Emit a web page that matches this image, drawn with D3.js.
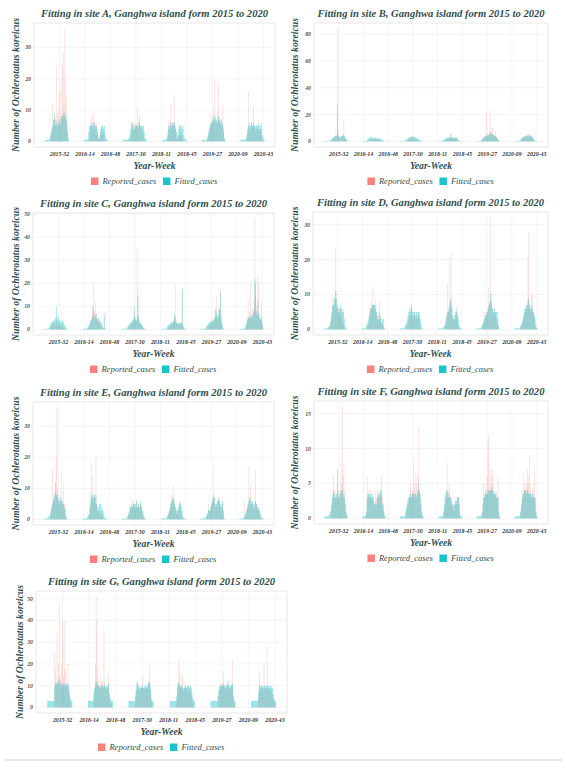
<!DOCTYPE html>
<html><head><meta charset="utf-8">
<script src="https://cdn.jsdelivr.net/npm/d3@7"></script>
<style>body{margin:0;background:#fff}svg{display:block}</style>
</head><body><svg id="c" width="567" height="768"></svg>
<script>
// ---------- DATA ----------
const years = [2015, 2016, 2017, 2018, 2019, 2020];
const weeksPerYear = [52, 52, 53, 52, 52, 52];
const seasonStartWeek = 13; // each season array starts at this week (32 weekly values)
const tickLabels = ["2015-32","2016-14","2016-48","2017-30","2018-11","2018-45","2019-27","2020-09","2020-43"];
const seriesNames = ["Reported_cases", "Fitted_cases"];
const siteNames = ["A","B","C","D","E","F","G"];

const yTicksA = [0,10,20,30];
const yTicksB = [0,20,40,60,80];
const yTicksC = [0,10,20,30,40,50];
const yTicksD = [0,10,20,30];
const yTicksE = [0,10,20,30];
const yTicksF = [0,5,10,15];
const yTicksG = [0,10,20,30,40,50];

const reportedA = [
 [0,0,0,0,0,0,0,1,2,4,12,5,6,8,6,24,9,7,10,16,8,20,9,24,28,12,36,20,14,8,3,0],
 [0,0,0,0,0,0,0,1,3,8,5,8,4,10,6,4,6,3,2,1,1,2,3,4,3,2,3,1,0,0,0,0],
 [0,0,0,0,0,0,0,0,0,1,2,3,4,6,3,4,5,4,5,11,6,7,8,5,4,5,3,2,1,0,0,0],
 [0,0,0,0,0,0,1,2,7,4,12,5,4,6,5,15,6,4,3,1,1,2,3,2,3,2,1,0,0,0,0,0],
 [0,0,0,0,0,0,0,0,1,2,4,5,9,6,7,10,8,20,9,7,6,10,18,8,6,5,7,5,12,4,1,0],
 [0,0,0,0,0,0,0,0,1,3,16,4,3,5,6,4,5,11,5,4,3,5,4,5,4,3,4,2,1,0,0,0]
];
const fittedA = [
 [0.5,0.5,0.5,0.5,0.5,0.5,1,2,3,4,5,7,9,7,5,6,5,5,6,6,5,7,8,8,9,8,9,8,7,5,3,1],
 [0.5,0.5,0.5,0.5,0.5,1,3,5,5,6,5,5,6,5,6,5,5,4,3,1,1,2,4,5,5,5,4,5,3,1,0.5,0.5],
 [0.5,0.5,0.5,0.5,0.5,0.5,0.5,1,1,2,4,6,5,6,5,4,5,6,5,5,4,5,6,5,5,4,5,5,3,1,0.5,0.5],
 [0.5,0.5,0.5,0.5,0.5,1,2,4,5,5,6,5,6,5,6,6,5,4,3,1,2,4,5,5,5,4,5,4,2,1,0.5,0.5],
 [0.5,0.5,0.5,0.5,0.5,0.5,0.5,1,2,3,4,5,6,6,7,6,7,8,7,6,7,6,8,7,7,6,7,6,5,3,1,0.5],
 [0.5,0.5,0.5,0.5,0.5,0.5,0.5,1,2,4,5,6,5,5,6,5,5,6,5,5,4,5,5,6,5,4,5,6,4,2,1,0.5]
];

const reportedB = [
 [0,0,0,0,0,0,0,0,0,1,1,2,2,3,4,8,5,84,9,4,3,2,3,2,4,3,16,3,2,1,0,0],
 [0,0,0,0,0,0,0,0,1,1,2,2,1,2,3,2,2,1,2,2,1,2,1,2,1,1,1,0,0,0,0,0],
 [0,0,0,0,0,0,0,0,0,1,1,2,2,3,2,3,4,3,2,2,3,2,2,1,1,1,0,0,0,0,0,0],
 [0,0,0,0,0,0,0,0,1,1,2,2,1,2,2,3,5,3,2,2,3,2,2,3,2,1,1,0,0,0,0,0],
 [0,0,0,0,0,0,0,1,2,4,3,5,4,22,6,5,4,8,24,7,11,10,6,5,4,8,6,3,2,1,0,0],
 [0,0,0,0,0,0,0,0,0,1,2,3,4,5,3,4,6,4,3,5,4,3,4,3,2,2,1,0,0,0,0,0]
];
const fittedB = [
 [0.3,0.3,0.3,0.3,0.3,0.3,0.5,1,1,2,2,3,3,3,4,4,4,27,5,4,3,3,4,4,4,5,5,4,3,2,1,0.5],
 [0.3,0.3,0.3,0.3,0.3,0.5,1,1.5,2,2.5,3,3,3,2.5,2.5,2,2.5,3,2.5,2.5,2,2,2.5,2,2,1.5,1,1,0.5,0.5,0.3,0.3],
 [0.3,0.3,0.3,0.3,0.3,0.3,0.5,1,1.5,2,2,2.5,3,3,3,3.5,4,3.5,3,3,3.5,3,2.5,2,2,1.5,1,0.5,0.5,0.3,0.3,0.3],
 [0.3,0.3,0.3,0.3,0.3,0.5,1,1.5,2,2,2.5,3,2.5,3,3,3,6,3,3,2.5,3,3,2.5,3,2.5,2,1.5,1,0.5,0.3,0.3,0.3],
 [0.3,0.3,0.3,0.3,0.3,0.5,1,1.5,2,3,3,3.5,4,4,4,4.5,5,5,6,6,5,5,5,4.5,4,4,3.5,3,2,1,0.5,0.3],
 [0.3,0.3,0.3,0.3,0.3,0.3,0.5,1,1.5,2,2.5,3,3,3.5,3.5,4,4,4.5,5,4.5,4,5,4.5,4,3.5,3,2,1,0.5,0.3,0.3,0.3]
];

const reportedC = [
 [0,0,0,0,0,0,0,0,1,1,2,2,3,2,3,2,4,3,2,3,2,3,2,2,1,2,1,1,0,0,0,0],
 [0,0,0,0,0,0,0,0,1,2,3,5,6,10,20,8,12,5,7,4,5,3,2,4,2,1,1,0,5,0,0,0],
 [0,0,0,0,0,0,0,0,0,1,1,2,2,3,3,4,8,5,4,3,35,17,6,4,3,2,2,1,0,0,0,0],
 [0,0,0,0,0,0,0,0,0,1,1,2,2,3,2,3,4,6,19,5,3,2,2,3,2,2,3,16,2,1,0,0],
 [0,0,0,0,0,0,0,0,0,1,1,2,3,2,3,6,4,3,4,5,8,14,6,5,7,9,17,5,3,1,0,0],
 [0,0,0,0,0,0,0,0,1,2,5,13,6,8,20,7,6,9,8,12,48,15,10,6,23,20,7,5,6,12,3,0]
];
const fittedC = [
 [0.3,0.3,0.3,0.3,0.3,0.5,0.5,1,2,3,3,3.5,4,3,4,5,10,6,4,5,4,4,3,3.5,4,3,3,2,1,0.5,0.3,0.3],
 [0.3,0.3,0.3,0.3,0.3,0.5,1,1.5,2,3,4,4,5,10,7,5,6,7,5,4,5,3,4,3,2,3,1,0.5,7,0.5,0.3,0.3],
 [0.3,0.3,0.3,0.3,0.3,0.3,0.5,1,1.5,2,2.5,3,3,3.5,4,5,10,6,4,4,6,14,5,3,3,2.5,2,1.5,1,0.5,0.3,0.3],
 [0.3,0.3,0.3,0.3,0.3,0.3,0.5,1,1.5,2,2,2.5,3,3,3,3.5,4,7,5,3,3,2.5,2.5,3,2.5,3,3,18,2,1,0.5,0.3],
 [0.3,0.3,0.3,0.3,0.3,0.3,0.5,1,1.5,2,2.5,3,3,3.5,3,4,3.5,4,5,9,6,7,5,6,8,9,16,6,3,1,0.5,0.3],
 [0.3,0.3,0.3,0.3,0.3,0.3,0.5,1,2,3,4,5,5,5,6,5,5,6,7,9,22,20,8,6,13,7,5,4,5,4,2,0.5]
];

const reportedD = [
 [0,0,0,0,0,0,0,0,1,2,3,5,10,7,6,8,23,11,7,5,6,4,5,6,4,3,2,1,0,0,0,0],
 [0,0,0,0,0,0,0,0,1,2,4,7,6,8,7,12,7,6,9,5,4,3,2,4,8,3,2,1,2,1,0,0],
 [0,0,0,0,0,0,0,0,0,1,1,2,3,4,4,5,6,4,3,4,5,3,4,3,4,5,3,2,1,0,0,0],
 [0,0,0,0,0,0,0,0,0,1,2,4,13,5,6,21,8,22,7,4,3,2,3,4,5,4,2,1,0,0,0,0],
 [0,0,0,0,0,0,0,0,1,2,5,3,4,5,4,6,12,8,7,32,10,6,5,4,5,6,4,3,2,1,0,0],
 [0,0,0,0,0,0,0,0,0,1,1,2,3,4,5,6,7,6,21,28,8,6,5,10,10,5,4,3,1,0,0,0]
];
const fittedD = [
 [0.3,0.3,0.3,0.3,0.3,0.5,0.5,1,1,2,4,5,7,7,9,9,11,9,7,6,5,6,6,7,6,5,6,5,3,1,0.5,0.3],
 [0.3,0.3,0.3,0.3,0.3,0.5,1,1.5,2,3,4,5,6,6,7,7,7,7,7,6,5,4,3,3,5,4,3,2,3,3,1,0.3],
 [0.3,0.3,0.3,0.3,0.3,0.3,0.5,1,1.5,2,3,4,5,6,5,6,7,5,4,5,5,4,5,5,4,5,5,4,3,1,0.5,0.3],
 [0.3,0.3,0.3,0.3,0.3,0.3,0.5,1,1,2,3,4,5,5,6,7,8,9,6,4,3,3,4,5,6,5,4,3,1,0.5,0.3,0.3],
 [0.3,0.3,0.3,0.3,0.3,0.3,0.5,1,1.5,2,3,3,4,4,5,5,6,7,8,10,8,6,6,5,6,5,5,5,5,3,1,0.3],
 [0.3,0.3,0.3,0.3,0.3,0.3,0.3,0.5,1,1.5,2,3,4,5,6,6,7,7,8,9,7,6,6,7,6,5,5,4,3,1,0.5,0.3]
];

const reportedE = [
 [0,0,0,0,0,0,0,0,1,2,4,16,6,8,7,9,36,20,10,7,6,8,5,16,6,4,12,5,3,1,0,0],
 [0,0,0,0,0,0,0,0,1,9,4,18,7,14,6,8,5,20,5,3,2,2,3,2,2,1,1,0,0,0,0,0],
 [0,0,0,0,0,0,0,0,1,2,5,3,4,7,4,6,5,4,3,6,4,5,4,3,5,4,3,2,1,0,0,0],
 [0,0,0,0,0,0,0,0,1,2,3,4,8,5,6,11,7,5,4,3,2,3,2,4,5,3,2,1,0,0,0,0],
 [0,0,0,0,0,0,0,0,1,2,5,3,2,3,4,5,6,17,7,5,4,5,4,6,7,5,4,3,4,5,2,0],
 [0,0,0,0,0,0,6,1,2,3,4,5,17,6,11,5,4,5,4,3,5,16,5,4,3,4,3,2,1,0,0,0]
];
const fittedE = [
 [0.3,0.3,0.3,0.3,0.3,0.5,1,1,2,3,4,5,6,7,8,12,8,8,7,6,5,6,7,6,6,5,5,4,3,1,0.5,0.3],
 [0.3,0.3,0.3,0.3,0.3,0.5,1,1.5,2,4,6,8,7,8,7,8,7,8,5,4,3,4,5,5,4,3,3,2,1,0.5,0.3,0.3],
 [0.3,0.3,0.3,0.3,0.3,0.3,0.5,1,1.5,2,3,4,4,5,4,5,5,4,5,6,4,4,5,4,5,6,4,3,2,1,0.3,0.3],
 [0.3,0.3,0.3,0.3,0.3,0.3,0.5,1,1.5,2,3,4,5,6,7,7,6,5,4,3,2,3,4,5,6,5,4,3,1,0.5,0.3,0.3],
 [0.3,0.3,0.3,0.3,0.3,0.3,0.5,1,1.5,2,3,3,3,4,5,6,7,8,7,5,4,5,6,6,7,6,5,4,5,6,3,0.5],
 [0.3,0.3,0.3,0.3,0.3,0.5,1,1.5,2,3,4,5,6,7,7,6,5,6,5,4,5,6,5,4,4,3,3,2,1,0.5,0.3,0.3]
];

const reportedF = [
 [0,0,0,0,0,0,0,0,0,1,2,3,6,4,3,4,3,5,4,3,4,3,8,5,16,6,8,4,2,1,0,0],
 [0,0,0,0,0,1,6,3,4,3,4,3,4,3,2,3,2,4,2,3,4,3,4,2,3,4,6,3,2,1,0,0],
 [0,0,0,0,0,0,0,0,1,2,3,2,3,4,5,3,4,4,8,5,4,7,5,4,6,13,4,3,2,1,0,0],
 [0,0,0,0,0,0,0,1,2,3,4,8,3,4,5,3,2,3,2,1,2,1,2,3,2,3,2,3,1,0,0,0],
 [0,0,0,0,0,0,0,1,2,5,3,4,5,4,6,11,12,5,4,7,6,7,5,4,3,4,3,4,3,6,2,0],
 [0,0,0,0,0,0,0,0,1,2,4,3,6,4,5,4,5,7,5,6,9,5,4,3,4,5,3,7,2,1,0,0]
];
const fittedF = [
 [0.3,0.3,0.3,0.3,0.3,0.5,0.5,1,1,2,3,3.5,4,3.5,3,3,3.5,7,3.5,3,3,3.5,4,4,4,3.5,3,3,2,1,0.5,0.3],
 [0.3,0.3,0.3,0.3,0.5,1,3,3.5,3.5,3,3.5,3.5,3,3.5,3,2.5,2,2,2.5,2,3,3.5,3,3.5,4,4,3.5,2,2,1,0.5,0.3],
 [0.3,0.3,0.3,0.3,0.3,0.3,0.5,1,1.5,2,2.5,3,3,3.5,3.5,3,3.5,3.5,3.5,3,3.5,3.5,3,3.5,4,5,4,3.5,2,1,0.5,0.3],
 [0.3,0.3,0.3,0.3,0.3,0.5,1,2,3,3.5,4,4,3.5,3,3.5,3,3,2.5,2,1.5,2,2,2.5,2,2.5,3,3,3,2,0.5,0.3,0.3],
 [0.3,0.3,0.3,0.3,0.3,0.3,0.5,1,2,3,3,3.5,3.5,3.5,3.5,4,4,4,4,4,4.5,4,4,3.5,3.5,3.5,3.5,3,3,3,1,0.3],
 [0.3,0.3,0.3,0.3,0.3,0.3,0.3,0.5,1,2,3,3.5,3.5,4,4,4,3.5,4,4,3.5,3.5,3.5,3.5,3,3.5,3.5,3,3,3,1,0.3,0.3]
];

const reportedG = [
 [0,0,0,0,0,0,0,0,0,25,18,12,34,13,20,48,15,12,20,40,14,40,18,16,10,12,20,8,6,3,0,0],
 [0,0,0,0,0,0,0,3,8,20,51,40,18,12,10,9,14,12,11,10,36,12,10,8,9,10,15,7,4,2,0,0],
 [0,0,0,0,0,0,0,0,2,5,8,10,9,8,7,8,9,10,14,9,8,9,10,8,9,12,20,10,6,3,0,0],
 [0,0,0,0,0,0,0,0,2,6,12,22,18,10,11,15,14,9,8,10,9,8,9,7,8,9,8,6,4,2,0,0],
 [0,0,0,0,0,0,0,0,0,2,5,8,9,10,8,12,17,10,9,8,10,9,11,10,9,8,10,9,22,6,2,0],
 [0,0,0,0,0,0,0,0,0,4,16,9,8,10,9,8,21,10,9,8,28,9,8,10,9,8,7,6,4,2,0,0]
];
const fittedG = [
 [3,3,3,3,3,3,3,3,3,10,11,11,11,11,12,13,11,10,11,10,11,10,11,10,11,10,11,10,6,4,3,3],
 [3,3,3,3,3,3,3,6,9,10,12,11,10,10,9,10,9,10,10,9,10,10,9,10,9,10,11,6,4,3,3,3],
 [3,3,3,3,3,3,3,3,5,8,11,12,10,9,10,9,9,10,9,9,10,9,10,9,10,11,12,11,8,4,3,3],
 [3,3,3,3,3,3,3,3,5,9,11,11,10,10,9,10,9,8,9,10,10,9,10,10,9,10,10,9,6,4,3,3],
 [3,3,3,3,3,3,3,3,3,5,8,10,10,11,10,10,11,10,10,9,10,11,12,10,9,10,11,10,11,5,3,3],
 [3,3,3,3,3,3,3,3,3,7,10,10,9,10,10,9,10,10,9,10,10,9,10,9,10,9,10,9,6,4,3,3]
];

// ---------- LAYOUT ----------
const COL_REP = "#F8766D", COL_FIT = "#00BFC4";
const TXT = "#2F4F4F";
const SERIF = "'Liberation Serif','DejaVu Serif','Times New Roman',serif";

const panels = [
  {rep: reportedA, fit: fittedA, yt: yTicksA, ox: 0,   oy: 0,   L: 34, R: 275, T: 23, B: 147, ytx: 15},
  {rep: reportedB, fit: fittedB, yt: yTicksB, ox: 283, oy: 0,   L: 31, R: 265, T: 23, B: 147, ytx: 11},
  {rep: reportedC, fit: fittedC, yt: yTicksC, ox: 0,   oy: 190, L: 33, R: 274, T: 23, B: 145, ytx: 15},
  {rep: reportedD, fit: fittedD, yt: yTicksD, ox: 283, oy: 190, L: 30, R: 265, T: 22, B: 145, ytx: 11},
  {rep: reportedE, fit: fittedE, yt: yTicksE, ox: 0,   oy: 380, L: 33, R: 274, T: 22, B: 145, ytx: 15},
  {rep: reportedF, fit: fittedF, yt: yTicksF, ox: 283, oy: 380, L: 31, R: 265, T: 21, B: 144, ytx: 11},
  {rep: reportedG, fit: fittedG, yt: yTicksG, ox: 0,   oy: 566, L: 36, R: 287, T: 25, B: 147, ytx: 19}
];

// week index helper (0 = 2015-01)
const yearStart = {};
{ let acc = 0; years.forEach((y, i) => { yearStart[y] = acc; acc += weeksPerYear[i]; }); }
const nWeeks = d3.sum(weeksPerYear);
const weekIndex = (y, w) => yearStart[y] + w - 1;
const labelIndex = s => { const [y, w] = s.split("-").map(Number); return weekIndex(y, w); };

const svg = d3.select("#c");
svg.append("rect").attr("width", 567).attr("height", 768).attr("fill", "#fff");

function fit(sel, target) {
  sel.attr("textLength", target).attr("lengthAdjust", "spacingAndGlyphs");
}

panels.forEach((p, pi) => {
  const g = svg.append("g").attr("transform", `translate(${p.ox},${p.oy})`);
  const maxV = d3.max([d3.max(p.rep.flat()), d3.max(p.fit.flat())]);
  const x = d3.scaleLinear().domain([-3, nWeeks - 1 + 6.5]).range([p.L, p.R]);
  const y = d3.scaleLinear().domain([-0.05 * maxV, 1.05 * maxV]).range([p.B, p.T]);
  const bw = (x(1) - x(0)) * 0.9;

  // grid
  const grid = g.append("g");
  grid.selectAll("line.v").data(tickLabels).join("line")
    .attr("x1", d => x(labelIndex(d))).attr("x2", d => x(labelIndex(d)))
    .attr("y1", p.T).attr("y2", p.B).attr("stroke", "#efefef").attr("stroke-width", 0.6);
  grid.selectAll("line.h").data(p.yt).join("line")
    .attr("x1", p.L).attr("x2", p.R).attr("y1", d => y(d)).attr("y2", d => y(d))
    .attr("stroke", "#efefef").attr("stroke-width", 0.6);

  // bars
  const flatten = arr => arr.flatMap((season, si) =>
    season.map((v, i) => ({idx: weekIndex(years[si], seasonStartWeek + i), v})));
  g.append("g").selectAll("rect").data(flatten(p.rep)).join("rect")
    .attr("x", d => x(d.idx) - bw / 2).attr("width", bw)
    .attr("y", d => y(d.v)).attr("height", d => y(0) - y(d.v))
    .attr("fill", COL_REP).attr("fill-opacity", 0.3);
  g.append("g").selectAll("rect").data(flatten(p.fit)).join("rect")
    .attr("x", d => x(d.idx) - bw / 2).attr("width", bw)
    .attr("y", d => y(d.v)).attr("height", d => y(0) - y(d.v))
    .attr("fill", COL_FIT).attr("fill-opacity", 0.48);

  // border
  g.append("rect").attr("x", p.L).attr("y", p.T).attr("width", p.R - p.L).attr("height", p.B - p.T)
    .attr("fill", "none").attr("stroke", "#e2e2e2").attr("stroke-width", 0.8);

  // y ticks
  g.append("g").selectAll("text").data(p.yt).join("text")
    .attr("x", p.L - 3).attr("y", d => y(d) + 2)
    .attr("text-anchor", "end").attr("font-family", SERIF).attr("font-style", "italic")
    .attr("font-weight", "bold").attr("font-size", 5.8).attr("fill", "#555")
    .text(d => d);
  // x ticks
  g.append("g").selectAll("text").data(tickLabels).join("text")
    .attr("x", d => x(labelIndex(d))).attr("y", p.B + 8.5)
    .attr("text-anchor", "middle").attr("font-family", SERIF).attr("font-style", "italic")
    .attr("font-weight", "bold").attr("font-size", 5.8).attr("fill", "#333")
    .text(d => d);

  const cx = (p.L + p.R) / 2;
  // title
  g.append("text").attr("x", cx).attr("y", p.T - 6).attr("text-anchor", "middle")
    .attr("font-family", SERIF).attr("font-style", "italic").attr("font-weight", "bold")
    .attr("font-size", 11).attr("fill", TXT)
    .text(`Fitting in site ${siteNames[pi]}, Ganghwa island form 2015 to 2020`).call(fit, 227);
  // x title
  g.append("text").attr("x", cx).attr("y", p.B + 21.5).attr("text-anchor", "middle")
    .attr("font-family", SERIF).attr("font-style", "italic").attr("font-weight", "bold")
    .attr("font-size", 10.5).attr("fill", TXT).text("Year-Week").call(fit, 42);
  // y title
  g.append("text").attr("transform", `translate(${p.ytx},${(p.T + p.B) / 2}) rotate(-90)`)
    .attr("text-anchor", "middle").attr("dy", "0.35em")
    .attr("font-family", SERIF).attr("font-style", "italic").attr("font-weight", "bold")
    .attr("font-size", 10.5).attr("fill", TXT).text("Number of Ochlerotatus koreicus").call(fit, 134);

  // legend
  const leg = g.append("g");
  const ly = p.B + 34.5;
  const items = leg.selectAll("g").data(seriesNames).join("g");
  items.append("rect").attr("width", 7.5).attr("height", 7.5).attr("y", ly - 4)
    .attr("fill", (d, i) => i === 0 ? COL_REP : COL_FIT).attr("fill-opacity", 0.9);
  items.append("text").attr("x", 11.5).attr("y", ly + 2.8)
    .attr("font-family", SERIF).attr("font-style", "italic").attr("font-size", 8.5)
    .attr("fill", TXT).text(d => d);
  let off = 0;
  const widths = [];
  items.each(function() { widths.push(this.getBBox().width); });
  const total = d3.sum(widths) + 6;
  off = cx - total / 2;
  items.attr("transform", (d, i) => {
    const t = `translate(${off},0)`; off += widths[i] + 6; return t;
  });
});

// bottom separator line
svg.append("line").attr("x1", 5).attr("x2", 562).attr("y1", 760).attr("y2", 760)
  .attr("stroke", "#cfcfcf").attr("stroke-width", 1.2);
</script></body></html>
